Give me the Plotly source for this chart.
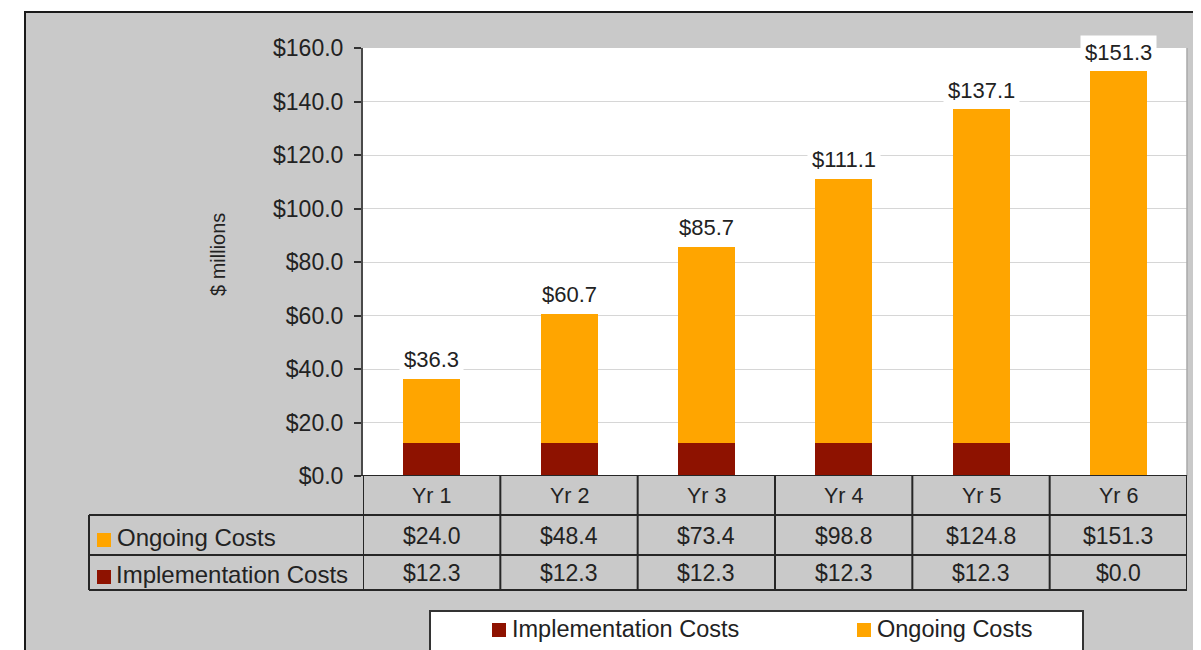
import plotly.graph_objects as go

# ---------------- data ----------------
categories = ["Yr 1", "Yr 2", "Yr 3", "Yr 4", "Yr 5", "Yr 6"]
implementation_costs = [12.3, 12.3, 12.3, 12.3, 12.3, 0.0]
ongoing_costs = [24.0, 48.4, 73.4, 98.8, 124.8, 151.3]
total_labels = [36.3, 60.7, 85.7, 111.1, 137.1, 151.3]
y_tick_values = [0, 20, 40, 60, 80, 100, 120, 140, 160]
series_names = ["Implementation Costs", "Ongoing Costs"]
y_title = "$ millions"

# ---------------- style ----------------
FONT = "Liberation Sans, Arial, sans-serif"
TXT = "#222222"
RED = "#8E1200"
ORANGE = "#FFA500"
GRAY_BG = "#C9C9C9"
LINE = "#262626"

OFF = 8  # page body margin: figure origin sits at (8, 8) on screen
W, H = 1201, 650
# plot area in screen pixels
SL, SR, ST, SB = 363, 1187, 48, 476
ML = SL - OFF
MT = ST - OFF
MR = W - (SR - OFF)
MB = H - (SB - OFF)
PW = SR - SL
PH = SB - ST


def px(x):
    """screen x pixel -> paper x"""
    return (x - SL) / PW


def py(y):
    """screen y pixel -> paper y"""
    return (SB - y) / PH


def money(v):
    return "${:,.1f}".format(v)


fig = go.Figure()
fig.add_trace(go.Bar(x=categories, y=implementation_costs, name=series_names[0],
                     marker=dict(color=RED, line=dict(width=0)), showlegend=False,
                     hoverinfo="skip"))
fig.add_trace(go.Bar(x=categories, y=ongoing_costs, name=series_names[1],
                     marker=dict(color=ORANGE, line=dict(width=0)), showlegend=False,
                     hoverinfo="skip"))

shapes = []
# gray chart frame
shapes.append(dict(type="rect", xref="paper", yref="paper", x0=px(25), x1=px(1240),
                   y0=py(690), y1=py(12), fillcolor=GRAY_BG,
                   line=dict(color="#1a1a1a", width=2), layer="below"))
# white plot area
shapes.append(dict(type="rect", xref="paper", yref="paper", x0=0, x1=1, y0=0, y1=1,
                   fillcolor="white", line=dict(width=0), layer="below"))
# plot right border
shapes.append(dict(type="line", xref="paper", yref="y", x0=1, x1=1, y0=0, y1=160,
                   line=dict(color="#A8A8A8", width=1.5)))
# table: top line (category axis)
shapes.append(dict(type="line", xref="paper", yref="y", x0=px(355), x1=1, y0=0, y1=0,
                   line=dict(color=LINE, width=2)))
for yy in (515, 555, 590):
    shapes.append(dict(type="line", xref="paper", yref="paper", x0=px(89), x1=1,
                       y0=py(yy), y1=py(yy), line=dict(color=LINE, width=2)))
shapes.append(dict(type="line", xref="paper", yref="paper", x0=px(89), x1=px(89),
                   y0=py(515), y1=py(590), line=dict(color=LINE, width=2)))
for k in range(len(categories) + 1):
    shapes.append(dict(type="line", xref="x", yref="paper", x0=k - 0.5, x1=k - 0.5,
                       y0=py(476), y1=py(590), line=dict(color=LINE, width=2)))
# table row key squares
shapes.append(dict(type="rect", xref="paper", yref="paper", x0=px(97), x1=px(111),
                   y0=py(547), y1=py(533), fillcolor=ORANGE, line=dict(width=0)))
shapes.append(dict(type="rect", xref="paper", yref="paper", x0=px(97), x1=px(111),
                   y0=py(584), y1=py(570), fillcolor=RED, line=dict(width=0)))
# legend box
shapes.append(dict(type="rect", xref="paper", yref="paper", x0=px(430), x1=px(1083),
                   y0=py(690), y1=py(611), fillcolor="white",
                   line=dict(color="#333333", width=2)))
shapes.append(dict(type="rect", xref="paper", yref="paper", x0=px(492), x1=px(506),
                   y0=py(637), y1=py(623), fillcolor=RED, line=dict(width=0)))
shapes.append(dict(type="rect", xref="paper", yref="paper", x0=px(857), x1=px(871),
                   y0=py(637), y1=py(623), fillcolor=ORANGE, line=dict(width=0)))

ann = []
# header row
for c in categories:
    ann.append(dict(x=c, xref="x", y=py(496), yref="paper", text=c, showarrow=False,
                    xanchor="center", yanchor="middle", font=dict(size=21.5, color=TXT)))
# value rows
for c, v in zip(categories, ongoing_costs):
    ann.append(dict(x=c, xref="x", y=py(536), yref="paper", text=money(v), showarrow=False,
                    xanchor="center", yanchor="middle", font=dict(size=23, color=TXT)))
for c, v in zip(categories, implementation_costs):
    ann.append(dict(x=c, xref="x", y=py(573), yref="paper", text=money(v), showarrow=False,
                    xanchor="center", yanchor="middle", font=dict(size=23, color=TXT)))
# row labels
ann.append(dict(x=px(115), xref="paper", y=py(537), yref="paper", text=series_names[1],
                showarrow=False, xanchor="left", yanchor="middle",
                font=dict(size=24, color=TXT)))
ann.append(dict(x=px(114), xref="paper", y=py(574), yref="paper", text=series_names[0],
                showarrow=False, xanchor="left", yanchor="middle",
                font=dict(size=24, color=TXT)))
# total labels
for c, t in zip(categories, total_labels):
    ann.append(dict(x=c, xref="x", y=t, yref="y", text=money(t), showarrow=False,
                    xanchor="center", yanchor="middle", yshift=19,
                    bgcolor="white", borderpad=4, font=dict(size=22, color=TXT)))
# legend texts
ann.append(dict(x=px(510), xref="paper", y=py(629), yref="paper", text=series_names[0],
                showarrow=False, xanchor="left", yanchor="middle",
                font=dict(size=23.5, color=TXT)))
ann.append(dict(x=px(875), xref="paper", y=py(629), yref="paper", text=series_names[1],
                showarrow=False, xanchor="left", yanchor="middle",
                font=dict(size=23.5, color=TXT)))
# y title
ann.append(dict(x=px(218), xref="paper", y=py(255), yref="paper", text=y_title,
                showarrow=False, textangle=-90, xanchor="center", yanchor="middle",
                font=dict(size=20, color=TXT)))

fig.update_layout(
    width=W, height=H,
    margin=dict(l=ML, r=MR, t=MT, b=MB, pad=0),
    paper_bgcolor="white", plot_bgcolor="white",
    font=dict(family=FONT, color=TXT),
    barmode="stack", bargap=0.585,
    showlegend=False, hovermode=False,
    shapes=shapes, annotations=ann,
    xaxis=dict(type="category", range=[-0.5, len(categories) - 0.5], showticklabels=False,
               showgrid=False, zeroline=False, showline=False, ticks="", fixedrange=True),
    yaxis=dict(range=[0, 160], tickvals=y_tick_values,
               ticktext=[money(v) for v in y_tick_values],
               showgrid=True, gridcolor="#D6D6D6", gridwidth=1, zeroline=False,
               showline=True, linecolor="#4a4a4a", linewidth=2,
               ticks="outside", ticklen=7, tickwidth=2, tickcolor="#333333",
               tickfont=dict(size=23, color=TXT), ticklabelstandoff=6,
               fixedrange=True),
)

fig.write_html("out.html", config={"displayModeBar": False})
